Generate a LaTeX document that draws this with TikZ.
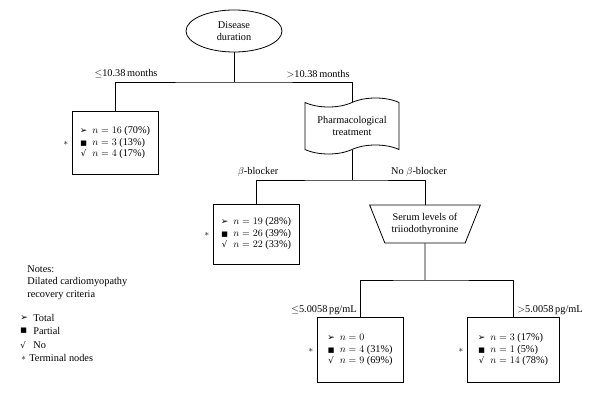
\documentclass[tikz,border=0pt]{standalone}
\usepackage{fontspec}
\setmainfont{Liberation Serif}
\newfontfamily\symfont{DejaVu Sans}
\usetikzlibrary{positioning, shapes.geometric, shapes.symbols}
\newcommand{\totmark}{{\symfont\fontsize{9}{9}\selectfont ➢}}
\newcommand{\partmark}{{\symfont\fontsize{7}{7}\selectfont ■}}
\newcommand{\nomark}{{\symfont\fontsize{8.5}{8.5}\selectfont √}}
\newcommand{\leafrows}[3]{\renewcommand{\arraystretch}{0.95}%
  \begin{tabular}{@{}c@{\hspace{5pt}}l@{}}\totmark & #1\\ \partmark & #2\\ \nomark & #3\end{tabular}}
\tikzset{
leaf/.style = { rectangle, draw = black, minimum width = 86pt, minimum height = 63pt, inner sep = 2pt },
split label/.style = { inner sep = 1pt },
leaf star/.style = { inner sep = 1pt, font = \fontsize{9}{9}\selectfont },
}

\begin{document}
\begin{tikzpicture}[x=1pt, y=-1pt, line width=0.8pt, font=\fontsize{10.3}{12}\selectfont]
      \useasboundingbox (0,0) rectangle (600,404);
      % decision nodes
      \node[ellipse, draw, minimum width=96pt, minimum height=42pt, inner sep=0pt, align=center] (dur) at (234,31) {Disease\\duration};
      \node[tape, draw, tape bend height=9pt, minimum width=94pt, minimum height=56pt, inner sep=1pt, align=center] (pharm) at (352,126) {Pharmacological\\treatment};
      \node[trapezium, draw, shape border rotate=180, trapezium angle=61, trapezium stretches=true, minimum width=111pt, minimum height=38pt, inner sep=1pt, align=center] (serum) at (425,224) {Serum levels of\\triiodothyronine};
      % terminal nodes
      \node[leaf] (short) at (115,143) {\leafrows{$n = 16$ (70\%)}{$n = 3$ (13\%)}{$n = 4$ (17\%)}};
      \node[leaf, minimum height=60pt] (beta) at (256,234) {\leafrows{$n = 19$ (28\%)}{$n = 26$ (39\%)}{$n = 22$ (33\%)}};
      \node[leaf, minimum height=65pt] (low) at (360,350) {\leafrows{$n = 0$\phantom{ (00\%)}}{$n = 4$ (31\%)}{$n = 9$ (69\%)}};
      \node[leaf, minimum width=92pt, minimum height=65pt] (high) at (513,350) {\leafrows{$n = 3$ (17\%)}{$n = 1$ (5\%)}{$n = 14$ (78\%)}};
      \foreach \leaf in {short, beta, low, high}
        \node[leaf star, left=2pt of \leaf.west] (star-\leaf) {$\ast$};
      % connectors
      \coordinate (j1) at (234,82);
      \coordinate (j2) at (352,180);
      \coordinate (j3) at (425,280);
      \draw (dur) -- (j1);
      \draw (short.north) |- (j1) -| (pharm.north);
      \draw (pharm.south) -- (j2);
      \draw (beta.north) |- (j2) -| (serum.north);
      \draw (serum.south) -- (j3);
      \draw (low.north) |- (j3) -| (high.north);
      % branch labels
      \node[split label] (l1) at (126,74) {$\leq$10.38\,months};
      \node[split label, anchor=south east] (l2) at (351,79) {$>$10.38\,months};
      \node[split label] (l3) at (258,172) {$\beta$-blocker};
      \node[split label] (l4) at (419,172) {No $\beta$-blocker};
      \node[split label, anchor=south east] (l5) at (358,316) {$\leq$5.0058\,pg/mL};
      \node[split label, anchor=south west] (l6) at (516,316) {$>$5.0058\,pg/mL};
      % notes
      \node[anchor=north west, inner sep=0pt, align=left, font=\fontsize{10.3}{12.5}\selectfont] (notes) at (27,265) {Notes:\\Dilated cardiomyopathy\\recovery criteria};
      \node[anchor=west, inner sep=0pt] (k1) at (20,318) {\totmark};
      \node[anchor=west, inner sep=0pt] (t1) at (33,318) {Total};
      \node[anchor=west, inner sep=0pt] (k2) at (20,331) {\partmark};
      \node[anchor=west, inner sep=0pt] (t2) at (33,331) {Partial};
      \node[anchor=west, inner sep=0pt] (k3) at (20,345) {\nomark};
      \node[anchor=west, inner sep=0pt] (t3) at (33,345) {No};
      \node[anchor=west, inner sep=0pt, font=\fontsize{9}{9}\selectfont] (k4) at (21,358) {$\ast$};
      \node[anchor=west, inner sep=0pt] (t4) at (29,358) {Terminal nodes};
\end{tikzpicture}
\end{document}
